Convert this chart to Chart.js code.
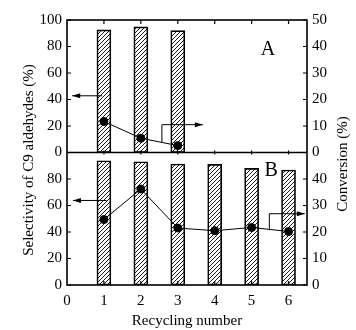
<!DOCTYPE html>
<html>
<head>
<meta charset="utf-8">
<script src="https://cdn.jsdelivr.net/npm/chart.js@4.4.1/dist/chart.umd.min.js"></script>
<style>
  html, body { margin: 0; padding: 0; background: #fff; }
  #wrap { width: 356px; height: 330px; }
</style>
</head>
<body>
<div id="wrap"><canvas id="chart" width="356" height="330"></canvas></div>
<script>
// recycling runs
const runsA = [1, 2, 3];
const runsB = [1, 2, 3, 4, 5, 6];
// panel A: selectivity (%) bars, conversion (%) points
const selectivityA = [92.6, 94.8, 92.0];
const conversionA = [11.7, 5.4, 2.6];
// panel B
const selectivityB = [93.8, 93.0, 91.3, 91.0, 88.0, 86.8];
const conversionB = [24.7, 36.2, 21.5, 20.5, 21.7, 20.2];

const SEL_SPAN = 100;   // each panel on the left axis covers 0-100
const CONV_SPAN = 50;   // each panel on the right axis covers 0-50

const FONT = 'Liberation Serif';
Chart.defaults.font.family = FONT;
Chart.defaults.font.size = 15;
Chart.defaults.color = '#000';

const ctx = document.getElementById('chart').getContext('2d');

function hatch() {
  const c = document.createElement('canvas');
  c.width = 4; c.height = 4;
  const g = c.getContext('2d');
  g.strokeStyle = '#000';
  g.lineWidth = 0.9;
  g.beginPath();
  g.moveTo(0, 4); g.lineTo(4, 0);
  g.moveTo(-1, 1); g.lineTo(1, -1);
  g.moveTo(3, 5); g.lineTo(5, 3);
  g.stroke();
  return ctx.createPattern(c, 'repeat');
}
const pattern = hatch();

// arrows, frame, inner ticks, panel letters, titles
const extras = {
  id: 'extras',
  afterDatasetsDraw(chart) {
    const { ctx, chartArea: a, scales } = chart;
    const x = scales.x, y = scales.y, y2 = scales.y2;
    const X = v => x.getPixelForValue(v);
    const Y = v => y.getPixelForValue(v);
    const Y2 = v => y2.getPixelForValue(v);
    ctx.save();
    ctx.strokeStyle = '#000';
    ctx.fillStyle = '#000';

    // frame + divider
    ctx.lineWidth = 1.6;
    ctx.strokeRect(a.left, a.top, a.right - a.left, a.bottom - a.top);
    ctx.beginPath();
    ctx.moveTo(a.left, Y(SEL_SPAN)); ctx.lineTo(a.right, Y(SEL_SPAN));
    ctx.stroke();

    // inner ticks
    ctx.lineWidth = 1.2;
    ctx.beginPath();
    for (let v = 0; v <= 2 * SEL_SPAN; v += 20) {
      ctx.moveTo(a.left, Y(v)); ctx.lineTo(a.left + 4, Y(v));
    }
    for (let v = 0; v <= 2 * CONV_SPAN; v += 10) {
      ctx.moveTo(a.right, Y2(v)); ctx.lineTo(a.right - 4, Y2(v));
    }
    for (let v = 1; v <= 6; v++) {
      ctx.moveTo(X(v), a.bottom); ctx.lineTo(X(v), a.bottom - 4);
      ctx.moveTo(X(v), a.top); ctx.lineTo(X(v), a.top + 4);
      ctx.moveTo(X(v), Y(SEL_SPAN) - 2); ctx.lineTo(X(v), Y(SEL_SPAN) + 2);
    }
    ctx.stroke();

    // arrows
    function arrow(x0, y0, x1, y1) {
      ctx.lineWidth = 1;
      ctx.beginPath(); ctx.moveTo(x0, y0); ctx.lineTo(x1, y1); ctx.stroke();
      const dir = Math.sign(x1 - x0);
      ctx.beginPath();
      ctx.moveTo(x1, y1);
      ctx.lineTo(x1 - dir * 8, y1 - 2.5);
      ctx.lineTo(x1 - dir * 8, y1 + 2.5);
      ctx.closePath(); ctx.fill();
    }
    function bracket(xv, yTop, yBot, xEnd, axisY) {
      const px = X(xv), pt = axisY(yTop), pb = axisY(yBot);
      ctx.lineWidth = 1;
      ctx.beginPath(); ctx.moveTo(px, pb); ctx.lineTo(px, pt); ctx.stroke();
      arrow(px, pt, X(xEnd), pt);
    }
    arrow(X(0.95), Y(SEL_SPAN + 42.8), X(0.14), Y(SEL_SPAN + 42.8));
    bracket(2.57, CONV_SPAN + 10.5, CONV_SPAN + 3.8, 3.68, Y2);
    arrow(X(1.07), Y(63.8), X(0.16), Y(63.8));
    bracket(5.48, 26.9, 20.6, 6.44, Y2);

    // panel letters
    ctx.font = '20px ' + FONT;
    ctx.textAlign = 'center';
    ctx.textBaseline = 'middle';
    ctx.fillText('A', X(5.44), Y(SEL_SPAN + 77.9));
    ctx.fillText('B', X(5.53), Y(86.3));

    // axis titles
    ctx.font = '15px ' + FONT;
    ctx.fillText('Recycling number', (a.left + a.right) / 2, 321);
    ctx.save();
    ctx.translate(29, 160);
    ctx.rotate(-Math.PI / 2);
    ctx.fillText('Selectivity of C9 aldehydes (%)', 0, 0);
    ctx.restore();
    ctx.save();
    ctx.translate(343, 164);
    ctx.rotate(-Math.PI / 2);
    ctx.fillText('Conversion (%)', 0, 0);
    ctx.restore();

    ctx.restore();
  }
};

new Chart(ctx, {
  type: 'bar',
  data: {
    datasets: [
      {
        label: 'Selectivity A',
        data: runsA.map((r, i) => ({ x: r, y: [SEL_SPAN, SEL_SPAN + selectivityA[i]] })),
        yAxisID: 'y',
        backgroundColor: pattern,
        borderColor: '#000',
        borderWidth: 1,
        borderSkipped: false,
        barThickness: 14,
        grouped: false,
        order: 2
      },
      {
        label: 'Selectivity B',
        data: runsB.map((r, i) => ({ x: r, y: selectivityB[i] })),
        yAxisID: 'y',
        backgroundColor: pattern,
        borderColor: '#000',
        borderWidth: 1,
        borderSkipped: false,
        barThickness: 14,
        grouped: false,
        order: 2
      },
      {
        type: 'line',
        label: 'Conversion A',
        data: runsA.map((r, i) => ({ x: r, y: CONV_SPAN + conversionA[i] })),
        yAxisID: 'y2',
        borderColor: '#000',
        borderWidth: 1,
        pointBackgroundColor: '#000',
        pointBorderColor: '#000',
        pointRadius: 4,
        tension: 0,
        order: 1
      },
      {
        type: 'line',
        label: 'Conversion B',
        data: runsB.map((r, i) => ({ x: r, y: conversionB[i] })),
        yAxisID: 'y2',
        borderColor: '#000',
        borderWidth: 1,
        pointBackgroundColor: '#000',
        pointBorderColor: '#000',
        pointRadius: 4,
        tension: 0,
        order: 1
      }
    ]
  },
  options: {
    responsive: false,
    animation: false,
    layout: { padding: { top: 20, left: 0, right: 0, bottom: 0 } },
    plugins: { legend: { display: false }, tooltip: { enabled: false } },
    scales: {
      x: {
        type: 'linear',
        min: 0,
        max: 6.5,
        offset: false,
        grid: { display: false, drawTicks: false },
        border: { display: false },
        ticks: { stepSize: 1, includeBounds: false, padding: 7 },
        afterFit: s => { s.height = 45; }
      },
      y: {
        position: 'left',
        min: 0,
        max: 2 * SEL_SPAN,
        grid: { display: false, drawTicks: false },
        border: { display: false },
        ticks: {
          stepSize: 20,
          padding: 5,
          callback: v => (v > SEL_SPAN ? v - SEL_SPAN : v === SEL_SPAN ? 0 : v)
        },
        afterFit: s => { s.width = 67; }
      },
      y2: {
        position: 'right',
        min: 0,
        max: 2 * CONV_SPAN,
        grid: { display: false, drawTicks: false },
        border: { display: false },
        ticks: {
          stepSize: 10,
          padding: 5,
          callback: v => (v >= CONV_SPAN ? v - CONV_SPAN : v)
        },
        afterFit: s => { s.width = 49; }
      }
    }
  },
  plugins: [extras]
});
</script>
</body>
</html>
